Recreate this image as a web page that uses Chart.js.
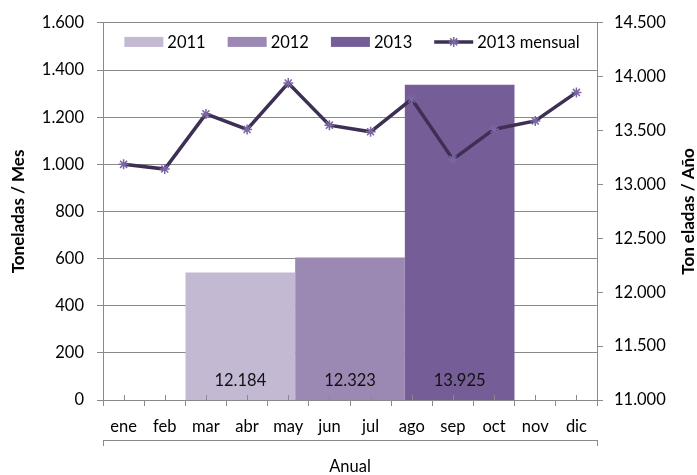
<!DOCTYPE html>
<html><head><meta charset="utf-8">
<script src="https://cdn.jsdelivr.net/npm/chart.js@4/dist/chart.umd.min.js"></script>
<style>html,body{margin:0;padding:0;background:#fff}#wrap{width:697px;height:475px}</style>
</head><body><div id="wrap"><canvas id="c" width="697" height="475"></canvas></div>
<script>
// ---- data ----
const months = ['ene','feb','mar','abr','may','jun','jul','ago','sep','oct','nov','dic'];
const monthly2013 = [1000, 980, 1214, 1148, 1345, 1166, 1138, 1277, 1021, 1149, 1184, 1305];
const annualCategory = ['Anual'];
const annualYears = ['2011', '2012', '2013'];
const annualTotals = [12184, 12323, 13925];
const lineLabel = '2013 mensual';
const leftAxisTitle = 'Toneladas / Mes';
const rightAxisTitle = 'Ton eladas / Año';
const leftRange = [0, 1600, 200];
const rightRange = [11000, 14500, 500];

// ---- styles ----
const barColors = ['#c3b9d3', '#9b89b4', '#755e98'];
const lineColor = '#3e2f55';
const markerColor = '#7a66a3';
const gridColor = '#8a8a8a';
const FONT = 'Lato';
const fmt = n => String(n).replace(/\B(?=(\d{3})+(?!\d))/g, '.');

Chart.defaults.font.family = FONT;
Chart.defaults.font.size = 16.5;
Chart.defaults.color = '#000';

// Only bar datasets should count when Chart.js splits a category between index axes
if (Chart.BarController && Chart.BarController.prototype._getAxis) {
  Chart.BarController.prototype._getAxis = function () {
    const ids = [];
    const type = this.chart.config.type;
    this.chart.data.datasets.forEach(ds => {
      if ((ds.type || type) === 'bar') {
        const id = ds.xAxisID || 'x';
        if (!ids.includes(id)) ids.push(id);
      }
    });
    return ids;
  };
}

const barDatasets = annualYears.map((y, i) => ({
  type: 'bar', label: y, data: [annualTotals[i]],
  backgroundColor: barColors[i], borderWidth: 0,
  xAxisID: 'x2', yAxisID: 'y2', order: 2,
  categoryPercentage: 0.666, barPercentage: 1.0
}));
const lineDataset = {
  type: 'line', label: lineLabel, data: monthly2013,
  borderColor: lineColor, borderWidth: 3.5, tension: 0,
  pointStyle: 'star', pointRadius: 5, pointBorderColor: markerColor,
  pointBackgroundColor: markerColor, pointBorderWidth: 1.5,
  xAxisID: 'x', yAxisID: 'y', order: 1
};

const extras = {
  id: 'extras',
  afterDatasetsDraw(chart) {
    const ctx = chart.ctx, ca = chart.chartArea;
    const xs = chart.scales.x;
    ctx.save();
    ctx.strokeStyle = gridColor; ctx.lineWidth = 1;
    months.forEach((m, i) => {
      const px = Math.round(xs.getPixelForValue(i)) + 0.5;
      ctx.beginPath(); ctx.moveTo(px, ca.bottom - 5); ctx.lineTo(px, ca.bottom); ctx.stroke();
    });
    ctx.fillStyle = '#111';
    ctx.font = '16.5px ' + FONT;
    ctx.textAlign = 'center'; ctx.textBaseline = 'middle';
    barDatasets.forEach((d, i) => {
      const el = chart.getDatasetMeta(i).data[0];
      ctx.fillText(fmt(annualTotals[i]), el.x, ca.bottom - 19);
    });
    ctx.restore();
  },
  afterDraw(chart) {
    const ctx = chart.ctx, ca = chart.chartArea;
    ctx.save();
    ctx.font = 'bold 17px ' + FONT;
    ctx.fillStyle = '#000';
    ctx.translate(689, (ca.top + ca.bottom) / 2);
    ctx.rotate(-Math.PI / 2);
    ctx.textAlign = 'center'; ctx.textBaseline = 'middle';
    ctx.fillText(rightAxisTitle, 0, 0);
    ctx.restore();

    ctx.save();
    ctx.font = '16.5px ' + FONT;
    const items = chart.data.datasets.map(d => ({label: d.label, type: d.type, ds: d}));
    const boxW = 39, gap = 4, spacing = 22;
    let total = 0;
    items.forEach(it => { it.w = boxW + gap + ctx.measureText(it.label).width; total += it.w; });
    total += spacing * (items.length - 1);
    let x = (ca.left + ca.right) / 2 - total / 2 + 2;
    const y = ca.top + 19;
    ctx.textBaseline = 'middle'; ctx.textAlign = 'left';
    items.forEach(it => {
      if (it.type === 'bar') {
        ctx.fillStyle = it.ds.backgroundColor;
        ctx.fillRect(x, y - 5, boxW, 10);
      } else {
        ctx.strokeStyle = it.ds.borderColor; ctx.lineWidth = it.ds.borderWidth;
        ctx.beginPath(); ctx.moveTo(x, y); ctx.lineTo(x + boxW, y); ctx.stroke();
        ctx.strokeStyle = it.ds.pointBorderColor; ctx.fillStyle = it.ds.pointBorderColor;
        ctx.lineWidth = it.ds.pointBorderWidth;
        Chart.helpers.drawPoint(ctx, {pointStyle: 'star', radius: 5, borderWidth: it.ds.pointBorderWidth, rotation: 0}, x + boxW / 2, y);
      }
      ctx.fillStyle = '#000';
      ctx.fillText(it.label, x + boxW + gap, y + 1);
      x += it.w + spacing;
    });
    ctx.restore();
  }
};

new Chart(document.getElementById('c'), {
  type: 'bar',
  data: { labels: months, datasets: [...barDatasets, lineDataset] },
  options: {
    responsive: false, animation: false, devicePixelRatio: 1,
    layout: { padding: { top: 17, left: 0, right: 0, bottom: 0 } },
    plugins: { legend: { display: false }, tooltip: { enabled: false } },
    scales: {
      x: {
        type: 'category', position: 'bottom', weight: 0,
        offset: true,
        grid: { offset: true, drawOnChartArea: false, drawTicks: true, tickLength: 6, color: gridColor },
        border: { display: true, color: gridColor },
        ticks: { padding: 11, maxRotation: 0, autoSkip: false },
        afterFit: s => { s.height = 40; }
      },
      x2: {
        type: 'category', position: 'bottom', weight: 1, labels: annualCategory,
        offset: true,
        grid: { offset: true, drawOnChartArea: false, drawTicks: true, tickLength: 6, color: gridColor },
        border: { display: true, color: gridColor },
        ticks: { padding: 11, maxRotation: 0 },
        afterFit: s => { s.height = 35; }
      },
      y: {
        position: 'left', min: leftRange[0], max: leftRange[1],
        ticks: { stepSize: leftRange[2], padding: 13, callback: v => fmt(v) },
        grid: { color: gridColor, tickLength: 6 },
        border: { display: true, color: gridColor },
        title: { display: true, text: leftAxisTitle, font: { weight: 'bold', size: 17 }, padding: { top: 8, bottom: 0 } },
        afterFit: s => { s.width = 103; }
      },
      y2: {
        position: 'right', min: rightRange[0], max: rightRange[1],
        ticks: { stepSize: rightRange[2], padding: 11, callback: v => fmt(v) },
        grid: { drawOnChartArea: false, color: gridColor, tickLength: 6 },
        border: { display: true, color: gridColor },
        afterFit: s => { s.width = 100; }
      }
    }
  },
  plugins: [extras]
});
</script></body></html>
